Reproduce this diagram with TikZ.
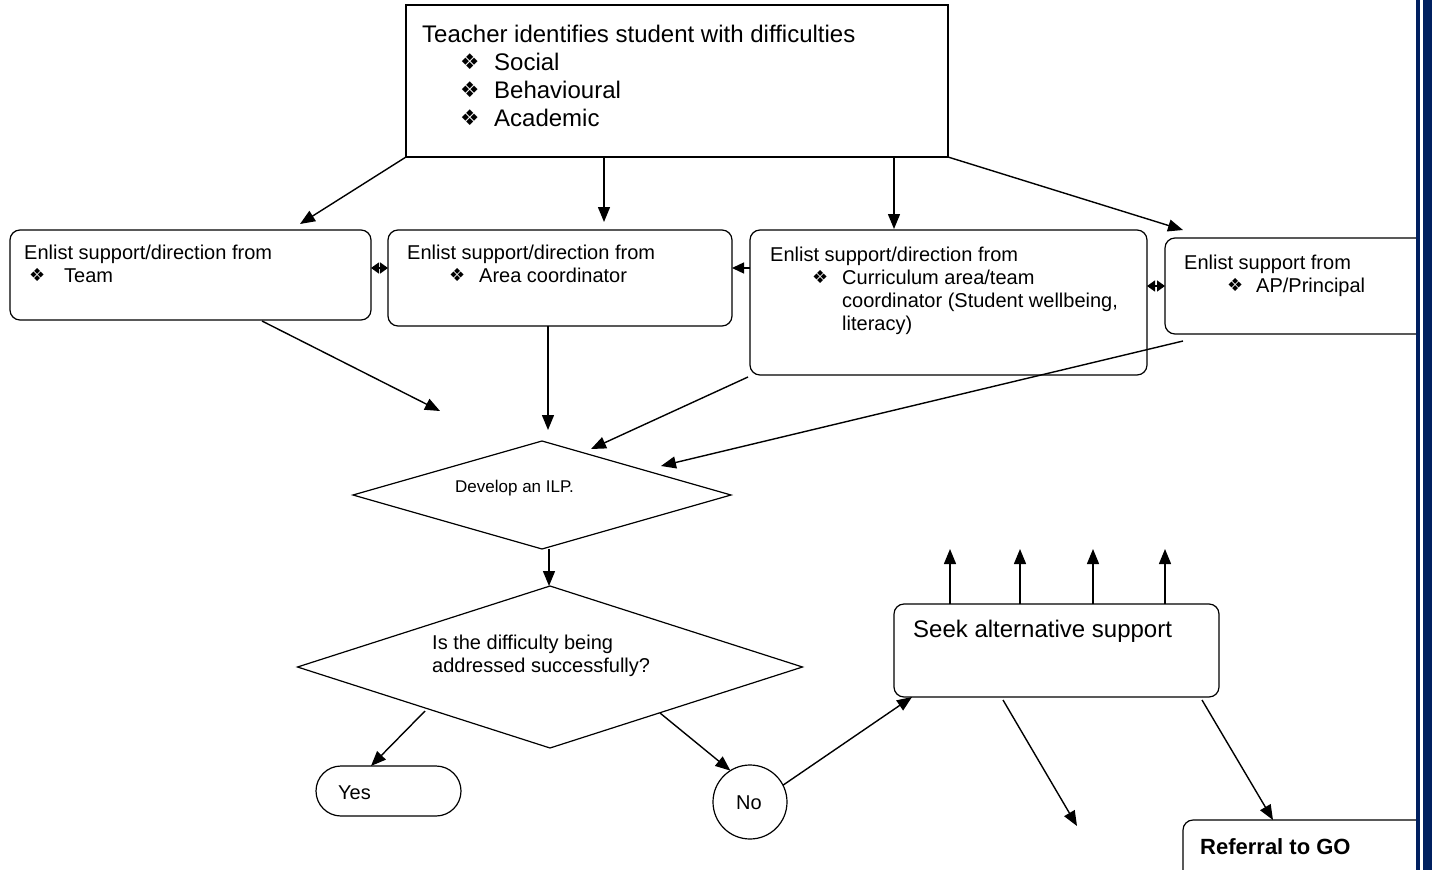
\documentclass[tikz,border=0pt]{standalone}
\usepackage{graphicx}
\usepackage{fontspec}
\setmainfont{Liberation Sans}
\newfontfamily\symfont{DejaVu Sans}
\usetikzlibrary{shapes.geometric,arrows.meta,calc}
\definecolor{barblue}{RGB}{0,32,96}
\newcommand\bul{\raisebox{0.5pt}{\scalebox{0.9}{\symfont\char"2756}}}
\begin{document}
\begin{tikzpicture}[x=1pt,y=-1pt,
  box/.style={draw, line width=1.2pt, rounded corners=10pt, inner sep=0pt, outer sep=0pt},
  sq/.style={draw, line width=1.2pt, inner sep=0pt, outer sep=0pt},
  dia/.style={draw, diamond, line width=1.2pt, inner sep=0pt, outer sep=0pt},
  arr/.style={line width=1.4pt, -{Triangle[length=15pt,width=12pt]}},
  sarr/.style={line width=1.4pt, -{Triangle[length=12pt,width=11pt]}},
  darr/.style={line width=1.4pt, {Triangle[length=8pt,width=11pt]}-{Triangle[length=8pt,width=11pt]}},
  txt/.style={anchor=base west, inner sep=0pt, font=\fontsize{20}{23}\selectfont},
  big/.style={anchor=base west, inner sep=0pt, font=\fontsize{24}{28}\selectfont},
]
\useasboundingbox (0,0) rectangle (1438,870);
\clip (0,0) rectangle (1438,870);
\fill[white] (0,0) rectangle (1438,870);

% boxes
\node[sq, minimum width=542, minimum height=152] (top) at (677,81) {};
\node[box, minimum width=361, minimum height=90] (team) at (190.5,275) {};
\node[box, minimum width=344, minimum height=96] (area) at (560,278) {};
\node[box, minimum width=397, minimum height=145] (curr) at (948.5,302.5) {};
\node[box, minimum width=270, minimum height=96] (ap) at (1300,286) {};
\node[dia, minimum width=378, minimum height=108] (ilp) at (542,495) {};
\node[dia, minimum width=505, minimum height=162] (q) at (550,667) {};
\node[box, rounded corners=25pt, minimum width=145, minimum height=50] (yes) at (388.5,791) {};
\node[draw, circle, line width=1.2pt, minimum size=74pt, inner sep=0pt, outer sep=0pt] (no) at (750,802) {};
\node[box, minimum width=325, minimum height=93] (seek) at (1056.5,650.5) {};
\node[box, minimum width=260, minimum height=90] (ref) at (1313,865) {};

% texts
\node[big] (t1) at (422,42) {Teacher identifies student with difficulties};
\node[big] (t2b) at (460,70) {\bul};
\node[big] (t2) at (494,70) {Social};
\node[big] (t3b) at (460,98) {\bul};
\node[big] (t3) at (494,98) {Behavioural};
\node[big] (t4b) at (460,126) {\bul};
\node[big] (t4) at (494,126) {Academic};

\node[txt] (tm1) at (24,259) {Enlist support/direction from};
\node[txt] (tm2b) at (29,282) {\bul};
\node[txt] (tm2) at (64,282) {Team};

\node[txt] (ar1) at (407,259) {Enlist support/direction from};
\node[txt] (ar2b) at (449,282) {\bul};
\node[txt] (ar2) at (479,282) {Area coordinator};

\node[txt] (cu1) at (770,261) {Enlist support/direction from};
\node[txt] (cu2b) at (812,284) {\bul};
\node[txt] (cu2) at (842,284) {Curriculum area/team};
\node[txt] (cu3) at (842,307) {coordinator (Student wellbeing,};
\node[txt] (cu4) at (842,330) {literacy)};

\node[txt] (ap1) at (1184,269) {Enlist support from};
\node[txt] (ap2b) at (1227,292) {\bul};
\node[txt] (ap2) at (1256,292) {AP/Principal};

\node[txt, font=\fontsize{17}{20}\selectfont] (ilpt) at (455,492) {Develop an ILP.};
\node[txt] (q1) at (432,649) {Is the difficulty being};
\node[txt] (q2) at (432,672) {addressed successfully?};
\node[txt] (yest) at (338,799) {Yes};
\node[txt] (not) at (736,809) {No};
\node[big] (seekt) at (913,637) {Seek alternative support};
\node[big, font=\fontsize{22}{26}\selectfont\bfseries] (reft) at (1200,854) {Referral to GO};

% free ends
\coordinate (c1) at (440,411);
\coordinate (c2) at (1077,826);
\coordinate (u1) at (950,549);
\coordinate (u2) at (1020,549);
\coordinate (u3) at (1093,549);
\coordinate (u4) at (1165,549);

% connectors
\draw[arr] (top.south west) -- ($(team.north west)+(290,-6)$);
\draw[arr] ($(top.south west)+(198,0)$) -- ($(area.north west)+(216,-8)$);
\draw[arr] ($(top.south west)+(488,0)$) -- ($(curr.north west)+(144,-1)$);
\draw[arr] (top.south east) -- ($(ap.north west)+(18,-8)$);

\draw[darr] ($(team.east)+(0,-7)$) -- ($(area.west)+(0,-10)$);
\draw[sarr] ($(curr.west)+(0,-34.5)$) -- ($(area.east)+(0,-10)$);
\draw[darr] ($(curr.east)+(0,-16.5)$) -- (ap.west);

\draw[arr] ($(team.south west)+(252,1)$) -- (c1);
\draw[arr] ($(area.south west)+(160,0)$) -- ($(ilp.north)+(6,-11)$);
\draw[arr] ($(curr.south west)+(-2,2)$) -- ($(ilp.north)+(49,8)$);
\draw[arr] ($(ap.south west)+(18,7)$) -- ($(ilp.north)+(119,25)$);

\draw[arr] ($(ilp.south)+(7,0)$) -- ($(q.north)+(-1,0)$);
\draw[arr] ($(q.center)+(-125,44)$) -- ($(yes.north west)+(55,0)$);
\draw[arr] ($(q.center)+(110,46)$) -- (no.122);
\draw[arr] (no.27) -- ($(seek.south west)+(18,0)$);

\draw[arr] ($(seek.north west)+(56,0)$) -- (u1);
\draw[arr] ($(seek.north west)+(126,0)$) -- (u2);
\draw[arr] ($(seek.north west)+(199,0)$) -- (u3);
\draw[arr] ($(seek.north west)+(271,0)$) -- (u4);
\draw[arr] ($(seek.south west)+(109,3)$) -- (c2);
\draw[arr] ($(seek.south west)+(308,3)$) -- ($(ref.north west)+(90,0)$);

% right border bars
\fill[white] (1416,0) rectangle (1438,870);
\fill[barblue] (1416,0) rectangle (1420,870);
\fill[barblue] (1423,0) rectangle (1432,870);
\end{tikzpicture}
\end{document}
